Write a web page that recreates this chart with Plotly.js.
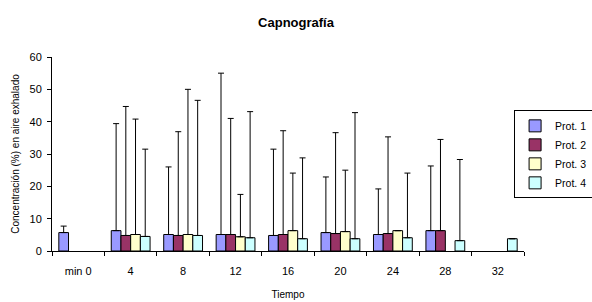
<!DOCTYPE html>
<html>
<head>
<meta charset="utf-8">
<script src="https://cdn.plot.ly/plotly-3.0.1.min.js"></script>
<style>html,body{margin:0;padding:0;background:#fff;}#chart{width:592px;height:302px;}</style>
</head>
<body>
<div id="chart"></div>
<script>
const categories = ["min 0","4","8","12","16","20","24","28","32"];
const seriesNames = ["Prot. 1","Prot. 2","Prot. 3","Prot. 4"];
const prot1 = [5.7, 6.3, 5.1, 5.1, 4.8, 5.7, 5.1, 6.3, null];
const prot1Err = [2.0, 33.1, 20.9, 49.9, 26.7, 17.2, 14.1, 20.0, null];
const prot2 = [null, 4.8, 4.8, 5.1, 5.1, 5.4, 5.4, 6.3, null];
const prot2Err = [null, 39.9, 32.1, 35.9, 32.1, 31.2, 29.9, 28.2, null];
const prot3 = [null, 5.1, 5.1, 4.4, 6.3, 6.0, 6.3, null, null];
const prot3Err = [null, 35.7, 44.9, 13.1, 17.8, 19.0, null, null, null];
const prot4 = [null, 4.5, 4.8, 4.1, 3.8, 3.8, 4.1, 3.2, 3.8];
const prot4Err = [null, 27.0, 41.8, 39.0, 25.0, 39.0, 20.0, 25.1, null];
const yTicks = [0, 10, 20, 30, 40, 50, 60];

const colors = ["#9999FF", "#993366", "#FFFFCC", "#CCFFFF"];
const values = [prot1, prot2, prot3, prot4];
const errs = [prot1Err, prot2Err, prot3Err, prot4Err];

const font = "Liberation Sans, Arial, sans-serif";
const traces = values.map((v, i) => ({
  type: "bar",
  name: seriesNames[i],
  x: categories,
  y: v,
  marker: {color: colors[i], line: {color: "#000", width: 1}},
  error_y: {
    type: "data", symmetric: false,
    array: errs[i],
    arrayminus: errs[i].map(() => 0),
    color: "#000", thickness: 1, width: 3
  }
}));

const layout = {
  width: 592, height: 302,
  margin: {l: 52, r: 68, t: 57, b: 51, autoexpand: false},
  paper_bgcolor: "#fff", plot_bgcolor: "#fff",
  title: {text: "<b>Capnografía</b>", x: 0.5, xanchor: "center", y: 0.94, font: {family: font, size: 13, color: "#000"}},
  barmode: "group", bargap: 0.26, bargroupgap: 0,
  showlegend: true,
  legend: {x: 0.979, xanchor: "left", y: 0.725, yanchor: "top", bordercolor: "#000", borderwidth: 1,
    font: {family: font, size: 10.5, color: "#000"}, bgcolor: "rgba(255,255,255,0)", tracegroupgap: 0, itemwidth: 30},
  xaxis: {
    type: "category", tickson: "boundaries", ticks: "outside", ticklen: 4, tickcolor: "#000",
    showline: true, linecolor: "#000", linewidth: 1, showgrid: false, automargin: false,
    tickfont: {family: font, size: 11, color: "#000"}, ticklabelstandoff: 10,
    title: {text: "Tiempo", font: {family: font, size: 10, color: "#000"}, standoff: 14},
    range: [-0.5, 8.5]
  },
  yaxis: {
    range: [0, 60], tickvals: yTicks, ticks: "outside", ticklen: 4, tickcolor: "#000",
    showline: true, linecolor: "#000", linewidth: 1, showgrid: false, zeroline: false, automargin: false,
    tickfont: {family: font, size: 11, color: "#000"}, ticklabelstandoff: 3,
    title: {text: "Concentración (%) en aire exhalado", font: {family: font, size: 10, color: "#000"}, standoff: 8}
  }
};

Plotly.newPlot("chart", traces, layout, {displayModeBar: false, staticPlot: true});
</script>
</body>
</html>
